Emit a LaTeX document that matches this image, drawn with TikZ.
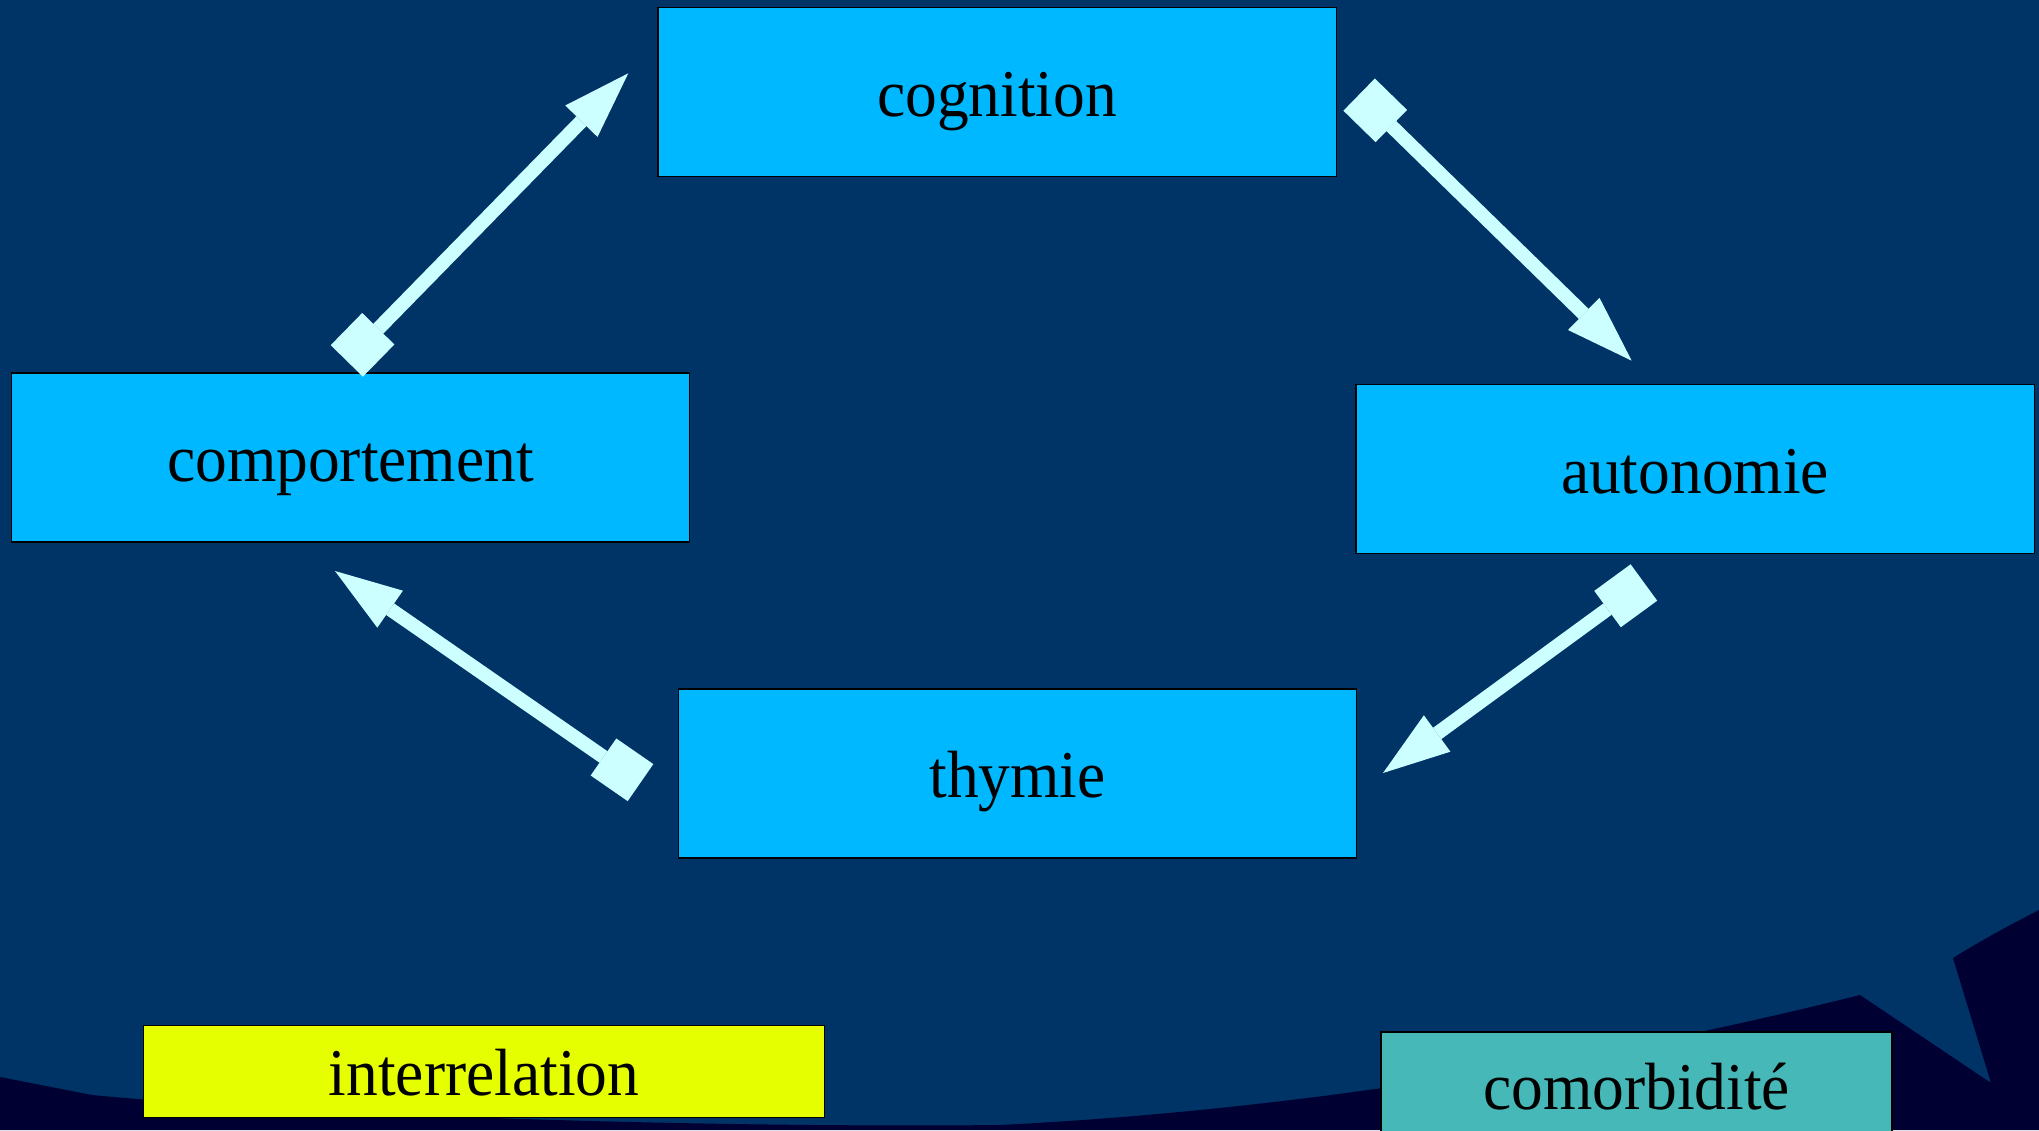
\documentclass[tikz,border=0pt]{standalone}
\usepackage{fontspec}
\setmainfont{Liberation Serif}[FakeStretch=0.95]
\usetikzlibrary{arrows.meta}
\definecolor{mnavy}{rgb}{0, 0.2, 0.4}
\definecolor{mdark}{rgb}{0, 0, 0.2}
\definecolor{mcyan}{rgb}{0, 0.72, 1}
\definecolor{mpale}{rgb}{0.8, 1, 1}
\definecolor{myellow}{rgb}{0.9, 1, 0}
\definecolor{mteal}{rgb}{0.28, 0.72, 0.72}
\tikzset{box/.style = {draw=black, line width=0.4pt, fill=mcyan, inner sep=0,
                       minimum width=6.78cm, minimum height=1.69cm,
                       text height=16.2pt, text depth=2.5pt,
                       font=\fontsize{19}{23}\selectfont}}
\tikzset{link/.style = {draw=mpale, line width=1.4mm,
                        arrows = {Square[length=4.5mm, width=4.5mm, line width=0pt]-Triangle[length=6.7mm, width=4.5mm, line width=0pt]}}}

\begin{document}
\begin{tikzpicture}[x=0.01cm, y=-0.01cm]
      \clip (0, 0) rectangle (2039, 1130);
      \fill [mnavy] (0, 0) rectangle (2039, 1130);
      \fill [mdark] (0, 1077) -- (92, 1095) .. controls (300, 1115) and (700, 1128) .. (1000, 1125)
                    .. controls (1300, 1110) and (1600, 1060) .. (1860, 995) -- (1991, 1083) -- (1953, 958)
                    .. controls (1990, 935) and (2020, 920) .. (2039, 910) -- (2039, 1130) -- (0, 1130) -- cycle;

      \node [box] (cognition) at (997, 92) {cognition};
      \node [box] (comportement) at (350.5, 457.5) {comportement};
      \node [box] (autonomie) at (1695, 469) {autonomie};
      \node [box] (thymie) at (1017.5, 773.5) {thymie};

      \node [box, fill=myellow, minimum width=6.81cm, minimum height=0.92cm] (interrelation) at (484, 1071.5) {interrelation};
      \node [box, fill=mteal, minimum width=5.11cm, minimum height=1.06cm] (comorbidite) at (1636.5, 1085) {comorbidité};

      \coordinate (comportement-out) at (346.8, 360.9);
      \coordinate (cognition-in) at (628.3, 73.3);
      \coordinate (cognition-out) at (1359.1, 94.6);
      \coordinate (autonomie-in) at (1631.7, 360.7);
      \coordinate (autonomie-out) at (1643.9, 582.5);
      \coordinate (thymie-in) at (1383, 773);
      \coordinate (thymie-out) at (640.5, 782.6);
      \coordinate (comportement-in) at (335, 571);

      \draw [link] (comportement-out) -- (cognition-in);
      \draw [link] (cognition-out) -- (autonomie-in);
      \draw [link] (autonomie-out) -- (thymie-in);
      \draw [link] (thymie-out) -- (comportement-in);
    \end{tikzpicture}
\end{document}
